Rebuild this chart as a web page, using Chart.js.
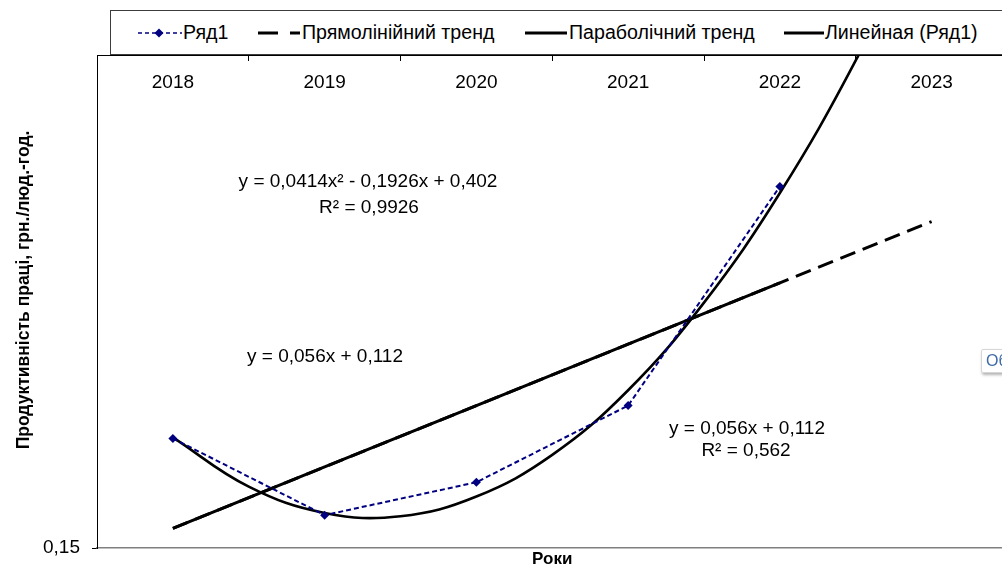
<!DOCTYPE html>
<html lang="uk">
<head>
<meta charset="utf-8">
<title>Продуктивність праці</title>
<script src="https://cdn.jsdelivr.net/npm/chart.js@4.4.1/dist/chart.umd.min.js"></script>
<style>
  html, body { margin: 0; padding: 0; overflow: hidden; background: #fff; }
  #wrap { position: relative; width: 1012px; height: 574px; font-family: "Liberation Sans", Arial, sans-serif; }
  #legend { position: absolute; left: 110px; top: 10px; width: 930px; height: 43px; border: 1px solid #3c3c3c; background: #fff; }
  .lg-text { position: absolute; top: 0; line-height: 43px; font-size: 19.6px; color: #000; white-space: nowrap; }
  .lg-sym { position: absolute; top: 16px; }
  #stub { position: absolute; left: 981px; top: 349px; height: 22px; padding: 0 6px 0 4px; border: 1px solid #d6d6d6; border-radius: 2px;
          box-shadow: 1px 2px 3px rgba(0,0,0,0.3); background: #fff; font-size: 16px; line-height: 22px; color: #3d6aa8; }
</style>
</head>
<body>
<div id="wrap">
  <canvas id="chart"></canvas>
  <div id="legend">
    <svg class="lg-sym" style="left:27px" width="44" height="12">
      <line x1="0" y1="6" x2="44" y2="6" stroke="#000080" stroke-width="1.6" stroke-dasharray="4 3"/>
      <polygon points="21,1.5 25.5,6 21,10.5 16.5,6" fill="#000080"/>
    </svg>
    <span class="lg-text" style="left:72px">Ряд1</span>
    <svg class="lg-sym" style="left:147px" width="44" height="12">
      <line x1="0" y1="6" x2="42" y2="6" stroke="#000" stroke-width="3" stroke-dasharray="20 12"/>
    </svg>
    <span class="lg-text" style="left:191px">Прямолінійний тренд</span>
    <svg class="lg-sym" style="left:414px" width="44" height="12">
      <line x1="0" y1="6" x2="42" y2="6" stroke="#000" stroke-width="3"/>
    </svg>
    <span class="lg-text" style="left:458px">Параболічний тренд</span>
    <svg class="lg-sym" style="left:673px" width="44" height="12">
      <line x1="0" y1="6" x2="40" y2="6" stroke="#000" stroke-width="3"/>
    </svg>
    <span class="lg-text" style="left:714px">Линейная (Ряд1)</span>
  </div>
  <div id="stub">Об</div>
</div>
<script>
// values
const YEARS = ["2018", "2019", "2020", "2021", "2022", "2023"];
const ROW1_X = [1, 2, 3, 4, 5];
const ROW1_Y = [0.25, 0.18, 0.21, 0.28, 0.48];
const LINEAR_X = [1, 2, 3, 4, 5, 6];
const LINEAR_Y = [0.168, 0.224, 0.28, 0.336, 0.392, 0.448];
const PARAB_X = [1, 1.5, 2, 2.5, 3, 3.5, 4, 4.5, 5, 5.5, 6];
const PARAB_Y = [0.251, 0.206, 0.182, 0.179, 0.197, 0.235, 0.294, 0.374, 0.474, 0.595, 0.737];
const Y_TICKS = [0.15];
const Y_MIN = 0.15;
const Y_MAX = 0.6;

const Y_TITLE = "Продуктивність праці, грн./люд.-год.";
const X_TITLE = "Роки";
const NOTES = [
  { text: "y = 0,0414x² - 0,1926x + 0,402", x: 368, y: 182 },
  { text: "R² = 0,9926", x: 369, y: 208 },
  { text: "y = 0,056x + 0,112", x: 325, y: 357 },
  { text: "y = 0,056x + 0,112", x: 747, y: 429 },
  { text: "R² = 0,562", x: 746, y: 451 },
];

const FONT = '"Liberation Sans", Arial, sans-serif';
Chart.defaults.font.family = FONT;
Chart.defaults.color = "#000";

function points(xs, ys) {
  return xs.map((x, i) => ({ x, y: ys[i] }));
}

const notesPlugin = {
  id: "notes",
  afterDraw(chart) {
    const c = chart.ctx;
    c.save();
    c.fillStyle = "#000";
    c.textAlign = "center";
    c.textBaseline = "middle";
    c.font = "19px " + FONT;
    for (const n of NOTES) c.fillText(n.text, n.x, n.y);
    c.translate(24, 290);
    c.rotate(-Math.PI / 2);
    c.font = "bold 17.5px " + FONT;
    c.fillText(Y_TITLE, 0, 0);
    c.restore();
  },
};

new Chart(document.getElementById("chart"), {
  type: "line",
  data: {
    labels: YEARS,
    datasets: [
      {
        label: "Ряд1",
        data: points(ROW1_X, ROW1_Y),
        xAxisID: "x", yAxisID: "y", order: 0,
        borderColor: "#000080", backgroundColor: "#000080",
        borderWidth: 2, borderDash: [5, 3],
        pointStyle: "rectRot", pointRadius: 4.5, pointBorderWidth: 0,
        tension: 0,
      },
      {
        label: "Линейная (Ряд1)",
        data: points(LINEAR_X.slice(0, 5), LINEAR_Y.slice(0, 5)),
        xAxisID: "x", yAxisID: "y", order: 1,
        borderColor: "#000", borderWidth: 3, pointRadius: 0, tension: 0,
      },
      {
        label: "Параболічний тренд",
        data: points(PARAB_X, PARAB_Y),
        xAxisID: "x", yAxisID: "y", order: 2,
        borderColor: "#000", borderWidth: 2.6, pointRadius: 0, tension: 0.4,
      },
      {
        label: "Прямолінійний тренд",
        data: points(LINEAR_X, LINEAR_Y),
        xAxisID: "x", yAxisID: "y", order: 3,
        borderColor: "#000", borderWidth: 3, borderDash: [16, 8], pointRadius: 0, tension: 0,
      },
    ],
  },
  options: {
    responsive: true,
    maintainAspectRatio: false,
    animation: false,
    layout: { padding: { left: 0, right: 2, top: 0, bottom: 0 } },
    elements: { line: { capBezierPoints: false } },
    plugins: { legend: { display: false }, tooltip: { enabled: false } },
    scales: {
      x: {
        type: "linear", position: "bottom", min: 0.5, max: 6.5,
        ticks: { display: false },
        grid: { display: false },
        border: { color: "#808080", width: 1.5 },
        title: { display: true, text: X_TITLE, font: { size: 17, weight: "bold" }, padding: { top: 0, bottom: 4 } },
        afterFit: (s) => { s.height = 26; },
      },
      xTop: {
        axis: "x", type: "category", position: "top", labels: YEARS, offset: true,
        min: YEARS[0], max: YEARS[YEARS.length - 1],
        grid: { offset: true, drawOnChartArea: false, tickLength: -6, color: "#000" },
        border: { color: "#000" },
        ticks: { font: { size: 19 }, mirror: true, padding: 16, autoSkip: false, maxRotation: 0 },
        afterFit: (s) => { s.height = 55; },
      },
      y: {
        type: "linear", position: "left", min: Y_MIN, max: Y_MAX,
        afterBuildTicks: (s) => { s.ticks = Y_TICKS.map((v) => ({ value: v })); },
        ticks: { font: { size: 19 }, padding: 12, callback: (v) => v.toFixed(2).replace(".", ",") },
        grid: { drawOnChartArea: false, tickLength: 5, color: "#000" },
        border: { color: "#000" },
        afterFit: (s) => { s.width = 97; },
      },
    },
  },
  plugins: [notesPlugin],
});
</script>
</body>
</html>
